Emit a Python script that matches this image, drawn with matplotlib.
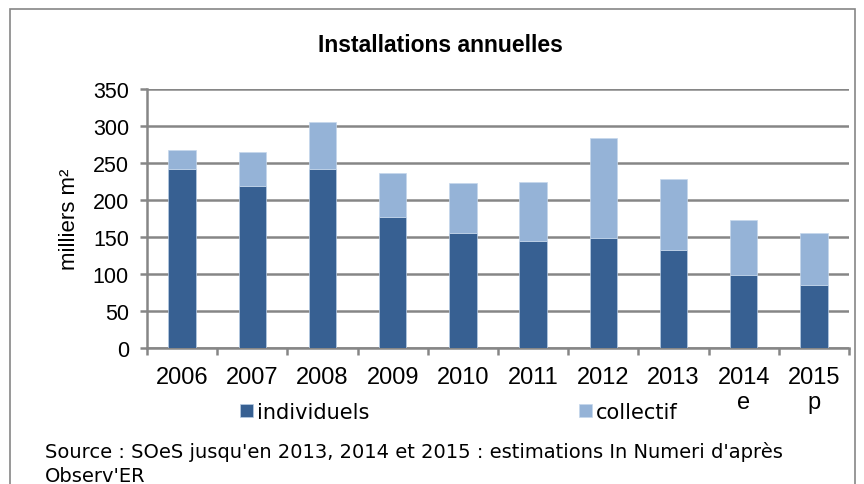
import numpy as np
import matplotlib.pyplot as plt
from matplotlib.patches import Rectangle

# data (milliers m2)
years = ['2006', '2007', '2008', '2009', '2010', '2011', '2012', '2013', '2014\ne', '2015\np']
individuels = [242, 219, 242, 177, 155, 144, 149, 132, 99, 85]
collectif = [26, 46, 64, 60, 68, 81, 135, 96, 74, 70]

dark = '#376092'
light = '#95B3D7'
grid_col = '#868686'

plt.rcParams['font.family'] = ['Liberation Sans', 'DejaVu Sans']

fig = plt.figure(figsize=(8.64, 4.85), dpi=100)
W, H = 864, 485
# outer frame like the spreadsheet chart area
fig.patches.append(Rectangle((10 / W, -0.1), 845 / W, 1.1 - 10 / H, transform=fig.transFigure,
                             fill=False, edgecolor='#868686', linewidth=1.2))

ax = fig.add_axes([147 / W, 1 - 349 / H, (849 - 147) / W, (349 - 90) / H])
x = np.arange(len(years))
ax.bar(x, individuels, width=0.39, color=dark, edgecolor='#b8cce4', linewidth=0.5,
       label='individuels', zorder=3)
ax.bar(x, collectif, width=0.39, bottom=individuels, color=light, edgecolor='#c5d7ec',
       linewidth=0.5, label='collectif', zorder=3)

ax.set_xlim(-0.5, len(years) - 0.5)
ax.set_ylim(0, 350)
ax.set_yticks(np.arange(0, 351, 50))
ax.yaxis.grid(True, color=grid_col, linewidth=1.8, zorder=0)
ax.set_axisbelow(True)
for s in ['top', 'right']:
    ax.spines[s].set_visible(False)
for s in ['left', 'bottom']:
    ax.spines[s].set_color(grid_col)
    ax.spines[s].set_linewidth(1.8)
ax.set_xticks(x)
ax.set_xticklabels(years, fontsize=17, linespacing=1.15)
ax.tick_params(axis='x', length=0, pad=13)
ax.set_xticks(np.arange(-0.5, len(years), 1), minor=True)
ax.tick_params(axis='x', which='minor', length=5, width=1.8, color=grid_col)
ax.tick_params(axis='y', labelsize=15.5, length=5, width=1.8, color=grid_col, pad=8)
ax.set_ylabel('milliers m²', fontsize=16, labelpad=9)

fig.text(440 / W, 1 - 45 / H, 'Installations annuelles', fontsize=16.5, fontweight='bold',
         ha='center', va='center')

fig.legend(loc='center left', bbox_to_anchor=(240 / W, 1 - 413 / H), ncol=2, frameon=False,
           prop={'family': 'DejaVu Sans', 'size': 15}, handlelength=0.6, handleheight=0.6,
           handletextpad=0.2, columnspacing=10.1, borderpad=0, borderaxespad=0)

fig.text(45 / W, 1 - 452 / H, "Source : SOeS jusqu'en 2013, 2014 et 2015 : estimations In Numeri d'après",
         fontsize=14, family='DejaVu Sans', ha='left', va='center')
fig.text(45 / W, 1 - 477 / H, "Observ'ER", fontsize=14, family='DejaVu Sans', ha='left', va='center')

fig.savefig('out.png', dpi=100)
